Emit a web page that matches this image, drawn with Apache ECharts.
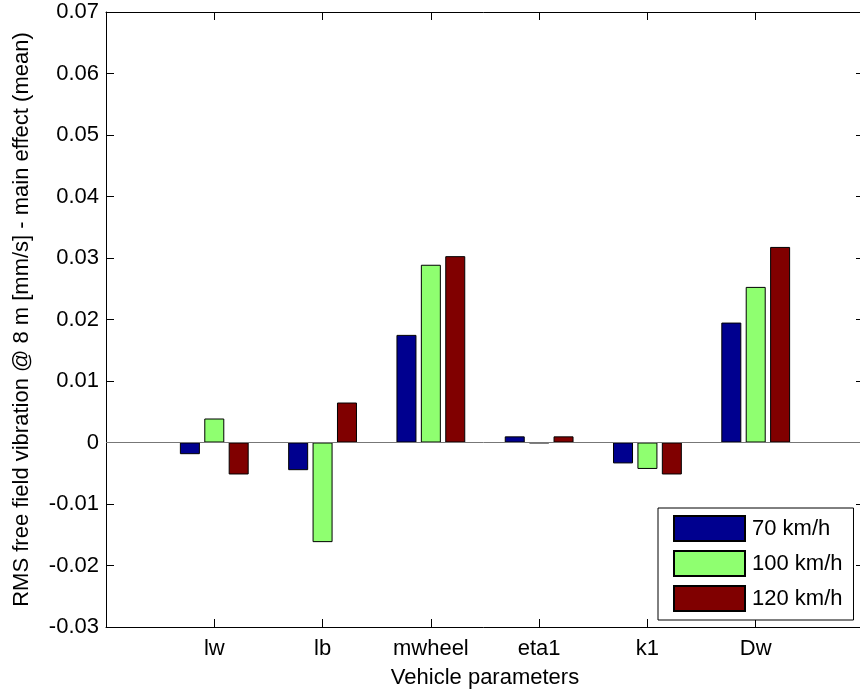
<!DOCTYPE html>
<html>
<head>
<meta charset="utf-8">
<script src="https://cdn.jsdelivr.net/npm/echarts@6/dist/echarts.min.js"></script>
<style>
  html, body { margin: 0; padding: 0; background: #fff; }
  #chart { width: 860px; height: 692px; }
</style>
</head>
<body>
<div id="chart"></div>
<script>
// Vehicle parameters (main effects on RMS free field vibration at 8 m)
const parameters = ['lw', 'lb', 'mwheel', 'eta1', 'k1', 'Dw'];
const speed70 = [-0.0019, -0.0045, 0.0175, 0.0010, -0.0034, 0.0195];
const speed100 = [0.0039, -0.0162, 0.0289, -0.0001, -0.0043, 0.0253];
const speed120 = [-0.0052, 0.0065, 0.0303, 0.0010, -0.0052, 0.0318];
const yTicks = [-0.03, -0.02, -0.01, 0, 0.01, 0.02, 0.03, 0.04, 0.05, 0.06, 0.07];

// pad with empty slots so the axis runs from 0 to 7 with parameters at 1..6
const padded = arr => [null, ...arr, null];
const categories = ['', ...parameters, ''];

const font = 'Liberation Sans, Arial, sans-serif';
const fs = 22;
const chart = echarts.init(document.getElementById('chart'));

const barStyle = color => ({ color: color, borderColor: '#000', borderWidth: 1 });
const tickStyle = { show: true, inside: true, length: 8, interval: 0, lineStyle: { color: '#000', width: 1 } };

chart.setOption({
  animation: false,
  grid: { left: 106, top: 12, width: 758, height: 615, containLabel: false, outerBoundsMode: 'none' },
  textStyle: { fontFamily: font, color: '#000' },
  legend: {
    orient: 'vertical',
    left: 658,
    top: 508,
    padding: [7, 11, 8, 15],
    itemWidth: 71,
    itemHeight: 25,
    itemGap: 8,
    icon: 'rect',
    backgroundColor: '#fff',
    borderColor: '#000',
    borderWidth: 1,
    textStyle: { fontSize: fs, color: '#000', fontFamily: font, padding: [0, 0, 0, 2] },
    data: ['70 km/h', '100 km/h', '120 km/h']
  },
  xAxis: [
    {
      type: 'category',
      data: categories,
      boundaryGap: false,
      name: 'Vehicle parameters',
      nameLocation: 'middle',
      nameGap: 40,
      nameTextStyle: { fontSize: fs, color: '#000', fontFamily: font },
      axisLine: { onZero: false, lineStyle: { color: '#000', width: 1 } },
      axisTick: tickStyle,
      axisLabel: { fontSize: fs, color: '#000', margin: 11, fontFamily: font, interval: 0 },
      splitLine: { show: false }
    },
    {
      type: 'category',
      data: categories,
      boundaryGap: false,
      position: 'top',
      axisLine: { onZero: false, lineStyle: { color: '#000', width: 1 } },
      axisTick: tickStyle,
      axisLabel: { show: false },
      splitLine: { show: false }
    }
  ],
  yAxis: [
    {
      type: 'value',
      min: yTicks[0],
      max: yTicks[yTicks.length - 1],
      interval: 0.01,
      name: 'RMS free field vibration @ 8 m [mm/s] - main effect (mean)',
      nameLocation: 'middle',
      nameGap: 73,
      nameTextStyle: { fontSize: fs, color: '#000', fontFamily: font },
      axisLine: { show: true, onZero: false, lineStyle: { color: '#000', width: 1 } },
      axisTick: { show: true, inside: true, length: 8, lineStyle: { color: '#000' } },
      axisLabel: {
        fontSize: fs, color: '#000', margin: 7, fontFamily: font,
        formatter: v => {
          const r = Math.round(v * 100) / 100;
          return r === 0 ? '0' : r.toFixed(2);
        }
      },
      splitLine: { show: false }
    },
    {
      type: 'value',
      min: yTicks[0],
      max: yTicks[yTicks.length - 1],
      interval: 0.01,
      position: 'right',
      axisLine: { show: true, onZero: false, lineStyle: { color: '#000', width: 1 } },
      axisTick: { show: true, inside: true, length: 8, lineStyle: { color: '#000' } },
      axisLabel: { show: false },
      splitLine: { show: false }
    }
  ],
  series: [
    {
      name: '70 km/h',
      type: 'bar',
      data: padded(speed70),
      barWidth: 20,
      barGap: '22%',
      itemStyle: barStyle('#00008f'),
      markLine: {
        silent: true,
        symbol: 'none',
        label: { show: false },
        lineStyle: { color: '#777', width: 1, type: 'solid' },
        data: [{ yAxis: 0 }]
      }
    },
    {
      name: '100 km/h',
      type: 'bar',
      data: padded(speed100),
      barWidth: 20,
      barGap: '22%',
      itemStyle: barStyle('#8fff70')
    },
    {
      name: '120 km/h',
      type: 'bar',
      data: padded(speed120),
      barWidth: 20,
      barGap: '22%',
      itemStyle: barStyle('#800000')
    }
  ]
});
</script>
</body>
</html>
